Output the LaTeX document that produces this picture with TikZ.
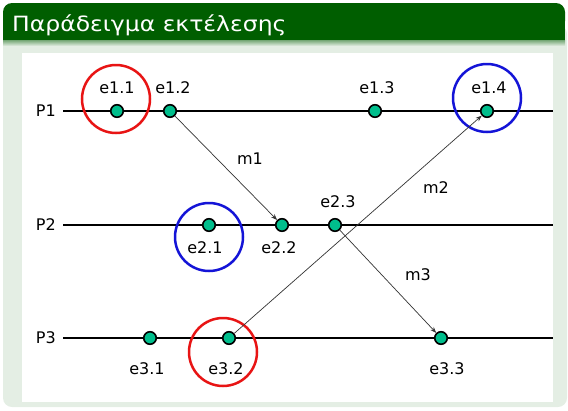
\documentclass[tikz,border=0pt]{standalone}
\usepackage{fontspec}
\setmainfont{DejaVu Sans}
\usetikzlibrary{arrows.meta}
\definecolor{titlegreen}{RGB}{0,94,0}
\definecolor{panelgreen}{RGB}{228,238,228}
\definecolor{dotgreen}{RGB}{0,190,140}
\definecolor{ringred}{RGB}{232,20,20}
\definecolor{ringblue}{RGB}{20,20,215}
\begin{document}
\begin{tikzpicture}[x=1pt,y=-1pt,
  lbl/.style={font=\fontsize{16}{16}\selectfont, inner sep=0pt},
  ev/.style={circle, draw=black, line width=1.6pt, fill=dotgreen, minimum size=12.5pt, inner sep=0pt},
  ring/.style={circle, line width=2.5pt, minimum size=68pt, inner sep=0pt},
  procline/.style={line width=1.8pt, black},
  msg/.style={line width=0.7pt, black!80, -{Stealth[length=6pt,width=4.5pt]}}
]
\useasboundingbox (0,0) rectangle (568,410);
% panel
\fill[panelgreen, rounded corners=9pt] (3,25) rectangle (567,407);
\fill[titlegreen, rounded corners=9pt] (3,3) rectangle (565,30);
\fill[titlegreen] (3,20) rectangle (565,40);
\shade[top color=titlegreen!55, bottom color=panelgreen] (3,40) rectangle (565,46);
\fill[white] (22,53) rectangle (553,402);
\node[anchor=base west, text=white, inner sep=0pt, xscale=1.12, font=\fontsize{21}{21}\selectfont] (title) at (12,31) {Παράδειγμα εκτέλεσης};

% process labels and lines
\node[lbl, anchor=east] (P1) at (56,111) {P1};
\node[lbl, anchor=east] (P2) at (56,225) {P2};
\node[lbl, anchor=east] (P3) at (56,338) {P3};
\coordinate (p1s) at (63,111); \coordinate (p1e) at (553,111);
\coordinate (p2s) at (63,225); \coordinate (p2e) at (553,225);
\coordinate (p3s) at (63,338); \coordinate (p3e) at (553,338);
\draw[procline] (p1s) -- (p1e);
\draw[procline] (p2s) -- (p2e);
\draw[procline] (p3s) -- (p3e);

% rings
\node[ring, draw=ringred] (r11) at (116,99) {};
\node[ring, draw=ringblue] (r14) at (487,98) {};
\node[ring, draw=ringblue] (r21) at (209,237) {};
\node[ring, draw=ringred] (r32) at (223,352) {};

% events
\node[ev] (e11) at (117,111) {};
\node[ev] (e12) at (170,111) {};
\node[ev] (e13) at (375,111) {};
\node[ev] (e14) at (487,111) {};
\node[ev] (e21) at (209,225) {};
\node[ev] (e22) at (282,225) {};
\node[ev] (e23) at (335,225) {};
\node[ev] (e31) at (150,338) {};
\node[ev] (e32) at (229,338) {};
\node[ev] (e33) at (441,338) {};

% event labels
\node[lbl] (l11) at (117,88) {e1.1};
\node[lbl] (l12) at (173,88) {e1.2};
\node[lbl] (l13) at (377,88) {e1.3};
\node[lbl] (l14) at (489,88) {e1.4};
\node[lbl] (l21) at (205,248) {e2.1};
\node[lbl] (l22) at (279,248) {e2.2};
\node[lbl] (l23) at (338,202) {e2.3};
\node[lbl] (l31) at (147,369) {e3.1};
\node[lbl] (l32) at (226,369) {e3.2};
\node[lbl] (l33) at (447,369) {e3.3};

% messages
\draw[msg] (e12) -- (e22);
\draw[msg] (e32) -- (e14);
\draw[msg] (e23) -- (e33);
\node[lbl] (m1) at (250,159) {m1};
\node[lbl] (m2) at (436,188) {m2};
\node[lbl] (m3) at (418,275) {m3};
\end{tikzpicture}
\end{document}
